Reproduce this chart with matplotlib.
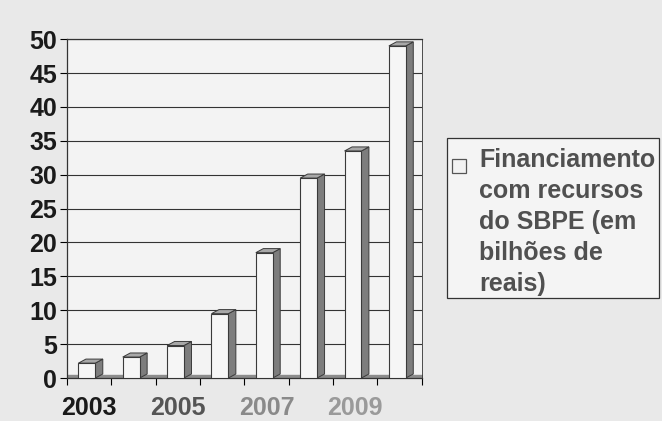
import numpy as np
import matplotlib.pyplot as plt
from matplotlib.patches import Polygon, Rectangle

plt.rcParams['font.family'] = ['Liberation Sans', 'DejaVu Sans']

anos = [2003, 2004, 2005, 2006, 2007, 2008, 2009, 2010]
valores = [2.2, 3.1, 4.8, 9.5, 18.5, 29.5, 33.5, 49.0]
rotulos_x = ['2003', '', '2005', '', '2007', '', '2009', '']
cores_x = ['#1a1a1a', '', '#555555', '', '#8a8a8a', '', '#9a9a9a', '']
legenda = "Financiamento\ncom recursos\ndo SBPE (em\nbilhões de\nreais)"

fig = plt.figure(figsize=(6.62, 4.21), dpi=100, facecolor='#e9e9e9')
ax = fig.add_axes([0.101, 0.102, 0.536, 0.805])
ax.set_facecolor('#f3f3f3')

x = np.arange(len(anos))
w = 0.38
dx = 0.17   # profundidade lateral (categorias)
dy = 0.6    # subida do topo (dados)

# piso 3D
ax.fill_between([-0.5, len(anos) - 0.5], 0, 0.45, color='#8c8c8c', zorder=1)

for xi, v in zip(x, valores):
    x0 = xi - w / 2 - 0.05
    x1 = x0 + w
    # face lateral
    ax.add_patch(Polygon([[x1, 0], [x1 + dx, dy], [x1 + dx, v + dy], [x1, v]],
                         closed=True, facecolor='#7d7d7d', edgecolor='#3a3a3a',
                         linewidth=0.7, zorder=3))
    # topo
    ax.add_patch(Polygon([[x0, v], [x0 + dx, v + dy], [x1 + dx, v + dy], [x1, v]],
                         closed=True, facecolor='#a8a8a8', edgecolor='#3a3a3a',
                         linewidth=0.7, zorder=3))
ax.bar(x - 0.05, valores, width=w, color='#f6f6f6', edgecolor='#3a3a3a',
       linewidth=0.8, zorder=4)

ax.set_xlim(-0.5, len(anos) - 0.5)
ax.set_ylim(0, 50)
ax.set_yticks(np.arange(0, 51, 5))
ax.yaxis.grid(True, color='#333333', linewidth=0.8)
ax.set_axisbelow(True)
ax.tick_params(axis='y', labelsize=18, length=5, width=0.8, pad=2)
for t in ax.get_yticklabels():
    t.set_fontweight('bold')
    t.set_color('#1a1a1a')

ax.set_xticks(np.arange(-0.5, len(anos)), minor=True)
ax.tick_params(axis='x', which='minor', length=5, width=0.8)
ax.set_xticks(x)
ax.set_xticklabels(rotulos_x, fontsize=18, fontweight='bold')
ax.tick_params(axis='x', which='major', length=0, pad=13)
for t, c in zip(ax.get_xticklabels(), cores_x):
    if c:
        t.set_color(c)

for s in ax.spines.values():
    s.set_color('#333333')
    s.set_linewidth(0.9)
ax.spines['right'].set_linewidth(0.6)

# legenda desenhada à mão
fig.patches.append(Rectangle((447 / 662, 1 - 298 / 421), 212 / 662, 160 / 421,
                             transform=fig.transFigure, facecolor='#f4f4f4',
                             edgecolor='#333333', linewidth=0.9))
fig.patches.append(Rectangle((452 / 662, 1 - 173 / 421), 14 / 662, 14 / 421,
                             transform=fig.transFigure, facecolor='#f2f2f2',
                             edgecolor='#555555', linewidth=0.9))
fig.text(479 / 662, 1 - 148 / 421, legenda, fontsize=18, fontweight='bold',
         color='#505050', va='top', ha='left', linespacing=1.37)

plt.savefig('out.png', dpi=100, facecolor=fig.get_facecolor())
